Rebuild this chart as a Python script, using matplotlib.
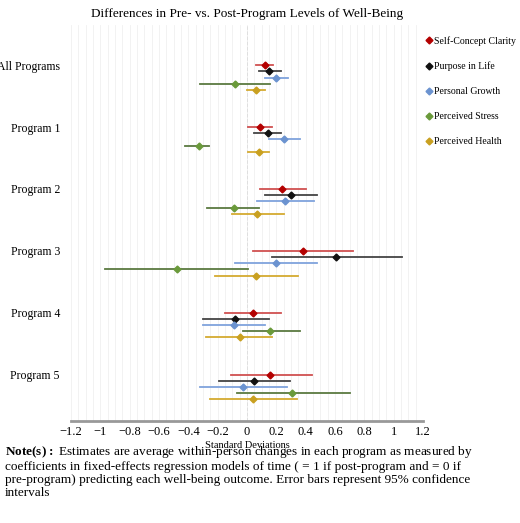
import matplotlib
matplotlib.use("Agg")
import matplotlib.pyplot as plt
import numpy as np

plt.rcParams['font.family'] = ['Liberation Serif', 'DejaVu Serif']
plt.rcParams['mathtext.fontset'] = 'custom'
plt.rcParams['mathtext.bf'] = 'Liberation Serif:bold'
plt.rcParams['mathtext.rm'] = 'Liberation Serif'

groups = ["All Programs", "Program 1", "Program 2", "Program 3", "Program 4", "Program 5"]
outcomes = ["Self-Concept Clarity", "Purpose in Life", "Personal Growth", "Perceived Stress", "Perceived Health"]
colors = ["#b30000", "#111111", "#6b93d0", "#6a9a3a", "#c9a020"]
linecolors = ["#d05050", "#444444", "#7fa3dc", "#5a7a40", "#d4aa30"]

est = [
    [0.12, 0.15, 0.20, -0.08, 0.06],
    [0.09, 0.14, 0.25, -0.33, 0.08],
    [0.24, 0.30, 0.26, -0.09, 0.07],
    [0.38, 0.61, 0.20, -0.48, 0.06],
    [0.04, -0.08, -0.09, 0.16, -0.05],
    [0.16, 0.05, -0.03, 0.31, 0.04],
]
lo = [
    [0.06, 0.08, 0.12, -0.32, 0.00],
    [0.01, 0.05, 0.15, -0.42, 0.01],
    [0.09, 0.12, 0.07, -0.27, -0.10],
    [0.04, 0.17, -0.08, -0.97, -0.22],
    [-0.15, -0.30, -0.30, -0.03, -0.28],
    [-0.11, -0.19, -0.32, -0.07, -0.25],
]
hi = [
    [0.18, 0.23, 0.28, 0.16, 0.12],
    [0.17, 0.23, 0.36, -0.26, 0.15],
    [0.40, 0.48, 0.46, 0.08, 0.25],
    [0.72, 1.06, 0.48, 0.01, 0.35],
    [0.23, 0.15, 0.12, 0.36, 0.17],
    [0.44, 0.29, 0.27, 0.70, 0.34],
]

fig = plt.figure(figsize=(5.2, 5.23), dpi=100)
ax = fig.add_axes([71/520, 1-421/523, 352/520, (421-25)/523])

step = 0.1
for g in range(len(groups)):
    for k in range(len(outcomes)):
        y = g + k * step
        ax.plot([lo[g][k], hi[g][k]], [y, y], color=linecolors[k], lw=1.3, zorder=2)
        ax.plot(est[g][k], y, marker='D', ms=3.5, color=colors[k], zorder=3, ls='none')

ax.axvline(0, color='#888888', ls='--', lw=0.7, zorder=1)
ax.set_xlim(-1.2, 1.2)
ax.set_ylim(5.75, -0.65)
ax.set_xticks(np.arange(-1.2, 1.21, 0.2))
ax.set_xticklabels(["\u22121.2", "\u22121", "\u22120.8", "\u22120.6", "\u22120.4", "\u22120.2", "0",
                    "0.2", "0.4", "0.6", "0.8", "1", "1.2"], fontsize=9)
ax.set_xticks(np.arange(-1.2, 1.21, 0.05), minor=True)
ax.grid(axis='x', which='both', color='#f0f0f0', lw=0.6, zorder=0)
ax.set_yticks(range(len(groups)))
ax.set_yticklabels(groups, fontsize=8.5)
ax.tick_params(axis='both', which='both', length=0)
ax.tick_params(axis='y', pad=8)
for s in ['top', 'right', 'left']:
    ax.spines[s].set_visible(False)
ax.spines['bottom'].set_color('#999999')
ax.spines['bottom'].set_linewidth(2)
ax.set_xlabel("Standard Deviations", fontsize=7.5, labelpad=2)
ax.set_title("Differences in Pre- vs. Post-Program Levels of Well-Being", fontsize=9.5, pad=6)

handles = [plt.Line2D([], [], marker='D', ms=3.5, color=c, ls='none') for c in colors]
fig.legend(handles, outcomes, loc='upper left', bbox_to_anchor=(421/520, 1-32/523), frameon=False,
           fontsize=7, handletextpad=0.05, labelspacing=1.65, handlelength=0.9, borderaxespad=0)

fig.text(5/520, 1-444/523,
         r"$\mathbf{Note(s):}$ Estimates are average within-person changes in each program as measured by" "\n"
         "coefficients in fixed-effects regression models of time ( = 1 if post-program and = 0 if\n"
         "pre-program) predicting each well-being outcome. Error bars represent 95% confidence\n"
         "intervals", fontsize=9.5, va='top', linespacing=1.1)

fig.savefig("out.png", dpi=100)
